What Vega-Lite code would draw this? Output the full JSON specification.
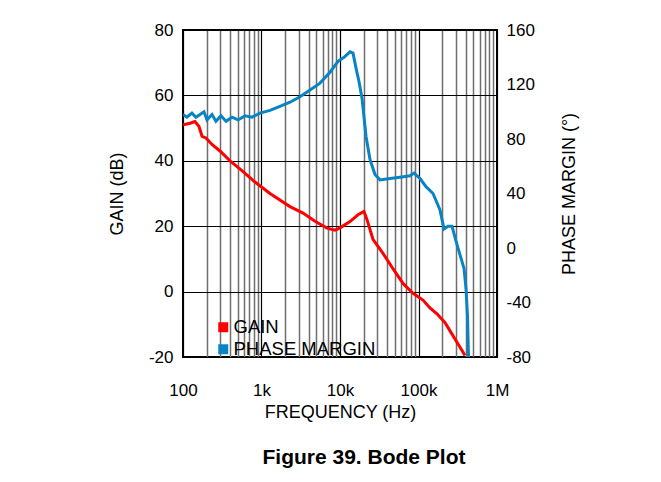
{
  "$schema": "https://vega.github.io/schema/vega-lite/v6.json",
  "width": 314,
  "height": 327,
  "autosize": {"type": "none"},
  "padding": {"left": 183, "top": 30, "right": 164, "bottom": 125},
  "background": "white",
  "title": {"text": "Figure 39. Bode Plot", "orient": "bottom", "font": "Liberation Sans", "fontSize": 21, "fontWeight": "bold", "color": "black", "offset": 26, "anchor": "middle", "dx": 24},
  "config": {
    "view": {"stroke": "black", "strokeWidth": 2},
    "font": "Liberation Sans",
    "axis": {"labelFont": "Liberation Sans", "titleFont": "Liberation Sans", "labelFontSize": 17, "titleFontSize": 18, "titleFontWeight": "normal", "labelColor": "black", "titleColor": "black", "ticks": false, "domain": false, "labelFlush": false}
  },
  "datasets": {
    "gain": [
      {"f": 100, "v": 51}, {"f": 123, "v": 51.5}, {"f": 142, "v": 52}, {"f": 160, "v": 50.5}, {"f": 175, "v": 47.5},
      {"f": 196, "v": 47}, {"f": 234, "v": 45}, {"f": 296, "v": 43}, {"f": 397, "v": 40}, {"f": 564, "v": 37},
      {"f": 826, "v": 33.5}, {"f": 1283, "v": 30}, {"f": 2306, "v": 26}, {"f": 3379, "v": 24}, {"f": 4808, "v": 21.5},
      {"f": 6830, "v": 19.4}, {"f": 8630, "v": 18.8}, {"f": 10000, "v": 19.5}, {"f": 13400, "v": 21.4}, {"f": 16960, "v": 23.5},
      {"f": 20200, "v": 24.5}, {"f": 22080, "v": 22}, {"f": 26300, "v": 16}, {"f": 35300, "v": 11.7}, {"f": 47300, "v": 7},
      {"f": 63500, "v": 2.5}, {"f": 85100, "v": -0.5}, {"f": 114100, "v": -2.6}, {"f": 140000, "v": -5}, {"f": 172100, "v": -6.8},
      {"f": 217700, "v": -9.5}, {"f": 267300, "v": -13}, {"f": 338000, "v": -17}, {"f": 391000, "v": -19.5}
    ],
    "phase": [
      {"f": 100, "v": 98}, {"f": 112, "v": 96}, {"f": 130, "v": 99}, {"f": 146, "v": 96}, {"f": 165, "v": 98},
      {"f": 185, "v": 100}, {"f": 202, "v": 94}, {"f": 234, "v": 98}, {"f": 263, "v": 93}, {"f": 305, "v": 97},
      {"f": 353, "v": 93}, {"f": 421, "v": 96}, {"f": 502, "v": 94}, {"f": 617, "v": 97}, {"f": 757, "v": 96},
      {"f": 957, "v": 99}, {"f": 1283, "v": 101}, {"f": 1720, "v": 104}, {"f": 2306, "v": 107}, {"f": 3093, "v": 111},
      {"f": 4149, "v": 116}, {"f": 5561, "v": 121}, {"f": 7457, "v": 129}, {"f": 9430, "v": 137}, {"f": 11250, "v": 140},
      {"f": 13400, "v": 144}, {"f": 14650, "v": 143}, {"f": 16000, "v": 132}, {"f": 17480, "v": 122}, {"f": 19070, "v": 110},
      {"f": 21440, "v": 82}, {"f": 24100, "v": 65}, {"f": 27900, "v": 54}, {"f": 32360, "v": 50}, {"f": 43380, "v": 51},
      {"f": 58100, "v": 52}, {"f": 77900, "v": 53}, {"f": 87700, "v": 55}, {"f": 104500, "v": 51}, {"f": 124700, "v": 45},
      {"f": 153100, "v": 40}, {"f": 187900, "v": 28}, {"f": 211300, "v": 14}, {"f": 237700, "v": 16}, {"f": 267300, "v": 16},
      {"f": 300500, "v": 5}, {"f": 338000, "v": -5}, {"f": 380200, "v": -15}, {"f": 403000, "v": -30}, {"f": 420800, "v": -50},
      {"f": 433500, "v": -80}
    ]
  },
  "layer": [
    {
      "data": {"name": "gain"},
      "mark": {"type": "line", "strokeWidth": 3, "clip": true},
      "encoding": {
        "x": {
          "field": "f", "type": "quantitative",
          "scale": {"type": "log", "domain": [100, 1000000], "nice": false},
          "axis": {
            "title": "FREQUENCY (Hz)",
            "values": [100,200,300,400,500,600,700,800,900,1000,2000,3000,4000,5000,6000,7000,8000,9000,10000,20000,30000,40000,50000,60000,70000,80000,90000,100000,200000,300000,400000,500000,600000,700000,800000,900000,1000000],
            "labelExpr": "datum.value == 100 ? '100' : datum.value == 1000 ? '1k' : datum.value == 10000 ? '10k' : datum.value == 100000 ? '100k' : datum.value == 1000000 ? '1M' : ''",
            "labelOverlap": false,
            "labelPadding": 25,
            "titlePadding": 5,
            "grid": true,
            "gridColor": {"condition": {"test": "abs(log(datum.value)/LN10 - round(log(datum.value)/LN10)) < 0.001", "value": "black"}, "value": "#6e6e6e"},
            "gridWidth": {"condition": {"test": "abs(log(datum.value)/LN10 - round(log(datum.value)/LN10)) < 0.001", "value": 1.2}, "value": 1.5},
            "gridOpacity": 1
          }
        },
        "y": {
          "field": "v", "type": "quantitative",
          "scale": {"domain": [-20, 80], "nice": false, "zero": false},
          "axis": {"title": "GAIN (dB)", "values": [-20, 0, 20, 40, 60, 80], "labelExpr": "datum.value < 0 ? '-' + abs(datum.value) : '' + datum.value", "grid": true, "gridColor": "black", "gridWidth": 1.2, "gridOpacity": 1, "labelPadding": 10, "titlePadding": 22}
        },
        "color": {
          "datum": "GAIN", "type": "nominal",
          "scale": {"domain": ["GAIN", "PHASE MARGIN"], "range": ["#ff0000", "#0884c4"]},
          "legend": {"title": null, "orient": "none", "legendX": 31, "legendY": 288, "symbolType": "square", "symbolSize": 25, "symbolStrokeWidth": 5, "labelFontSize": 18.5, "labelFont": "Liberation Sans", "labelColor": "black", "rowPadding": -20, "labelOffset": 1}
        }
      }
    },
    {
      "data": {"name": "phase"},
      "mark": {"type": "line", "strokeWidth": 3, "clip": true},
      "encoding": {
        "x": {"field": "f", "type": "quantitative", "scale": {"type": "log", "domain": [100, 1000000], "nice": false}},
        "y": {
          "field": "v", "type": "quantitative",
          "scale": {"domain": [-80, 160], "nice": false, "zero": false},
          "axis": {"title": "PHASE MARGIN (°)", "orient": "right", "titleAngle": 270, "values": [-80, -40, 0, 40, 80, 120, 160], "labelExpr": "datum.value < 0 ? '-' + abs(datum.value) : '' + datum.value", "grid": false, "labelPadding": 9, "titlePadding": 44}
        },
        "color": {"datum": "PHASE MARGIN", "type": "nominal"}
      }
    }
  ],
  "resolve": {"scale": {"y": "independent"}}
}
